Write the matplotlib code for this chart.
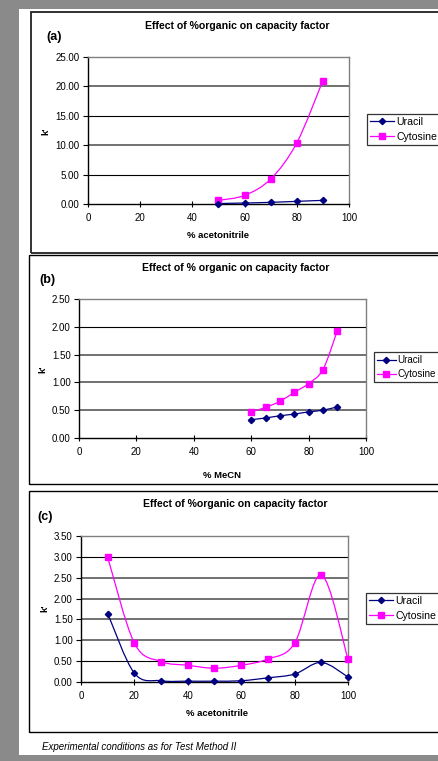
import matplotlib
matplotlib.use("Agg")
import matplotlib.pyplot as plt
from matplotlib.path import Path
from matplotlib.patches import PathPatch, Rectangle
from matplotlib.lines import Line2D

plt.rcParams['font.family'] = ['Liberation Sans', 'DejaVu Sans']

# ---------------- data ----------------
a_x = [50, 60, 70, 80, 90]
a_uracil = [0.08, 0.17, 0.28, 0.45, 0.62]
a_cytosine = [0.62, 1.47, 4.25, 10.4, 21.0]

b_x = [60, 65, 70, 75, 80, 85, 90]
b_uracil = [0.33, 0.36, 0.40, 0.43, 0.47, 0.50, 0.56]
b_cytosine = [0.47, 0.55, 0.66, 0.82, 0.98, 1.23, 1.93]

c_x = [10, 20, 30, 40, 50, 60, 70, 80, 90, 100]
c_uracil = [1.64, 0.21, 0.03, 0.02, 0.02, 0.03, 0.10, 0.19, 0.47, 0.12]
c_cytosine = [2.99, 0.93, 0.49, 0.40, 0.33, 0.40, 0.55, 0.93, 2.57, 0.55]

title = "Effect of %organic on capacity factor"
title_b = "Effect of % organic on capacity factor"
series_names = ["Uracil", "Cytosine"]
x_ticks = [0, 20, 40, 60, 80, 100]
a_yticks = [0, 5, 10, 15, 20, 25]
b_yticks = [0, 0.5, 1.0, 1.5, 2.0, 2.5]
c_yticks = [0, 0.5, 1.0, 1.5, 2.0, 2.5, 3.0, 3.5]

# ---------------- layout ----------------
W, H = 439, 761
fig = plt.figure(figsize=(W / 100, H / 100), dpi=100)
fig.patch.set_facecolor('#8a8a8a')


def fx(x):
    return x / W


def fy(y):
    return 1 - y / H


def prect(x0, y0, x1, y1, **kw):
    r = Rectangle((fx(x0), fy(y1)), (x1 - x0) / W, (y1 - y0) / H,
                  transform=fig.transFigure, **kw)
    fig.patches.append(r)


# white page
prect(19, 9, 445, 755, facecolor='white', edgecolor='none', zorder=-5)
# chart frames
prect(31, 12, 445, 253, facecolor='none', edgecolor='#222222', lw=1.3, zorder=-4)
prect(29, 255, 445, 484, facecolor='none', edgecolor='black', lw=1.0, zorder=-4)
prect(29, 491, 445, 732, facecolor='none', edgecolor='black', lw=1.0, zorder=-4)

U_COL = '#000080'
C_COL = '#FF00FF'


def smooth_path(xs, ys):
    pts = list(zip(xs, ys))
    n = len(pts)
    verts = [pts[0]]
    codes = [Path.MOVETO]
    for i in range(n - 1):
        p0 = pts[i - 1] if i > 0 else pts[i]
        p1 = pts[i]
        p2 = pts[i + 1]
        p3 = pts[i + 2] if i + 2 < n else pts[i + 1]
        c1 = (p1[0] + (p2[0] - p0[0]) / 6, p1[1] + (p2[1] - p0[1]) / 6)
        c2 = (p2[0] - (p3[0] - p1[0]) / 6, p2[1] - (p3[1] - p1[1]) / 6)
        verts += [c1, c2, p2]
        codes += [Path.CURVE4] * 3
    return Path(verts, codes)


def make_panel(box, xs, u, c, yticks, grid_cols, ttl, ttl_xy, lab, lab_xy,
               xlabel, xlab_xy, ylab_xy, leg_xy, leg_fs=7.6, leg_hl=2.3,
               fmt="{:.2f}"):
    x0, y0, x1, y1 = box
    ax = fig.add_axes([fx(x0), fy(y1), (x1 - x0) / W, (y1 - y0) / H])
    ax.set_zorder(5)
    ax.patch.set_facecolor('white')
    ax.set_xlim(0, 100)
    ax.set_ylim(yticks[0], yticks[-1])
    ax.set_xticks(x_ticks)
    ax.set_yticks(yticks)
    ax.set_yticklabels([fmt.format(v) for v in yticks])
    ax.tick_params(axis='both', labelsize=7, length=3.5, width=0.8, pad=2.5,
                   colors='black')
    ax.tick_params(axis='x', direction='inout', length=5, pad=4)
    for s in ['top', 'right']:
        ax.spines[s].set_color('#808080')
        ax.spines[s].set_linewidth(1.0)
    for s in ['left', 'bottom']:
        ax.spines[s].set_color('black')
        ax.spines[s].set_linewidth(1.0)
    for yv, col in zip(yticks[1:-1], grid_cols):
        if col == 'k':
            ax.axhline(yv, color='black', lw=0.8, zorder=1)
        else:
            ax.axhline(yv, color='#666666', lw=1.3, zorder=1)
    ax.add_patch(PathPatch(smooth_path(xs, c), facecolor='none',
                           edgecolor=C_COL, lw=0.9, zorder=3))
    ax.add_patch(PathPatch(smooth_path(xs, u), facecolor='none',
                           edgecolor=U_COL, lw=0.9, zorder=3))
    ax.plot(xs, c, linestyle='none', marker='s', ms=3.7, color=C_COL,
            zorder=4, clip_on=False)
    ax.plot(xs, u, linestyle='none', marker='D', ms=3.2, color=U_COL,
            zorder=5, clip_on=False)
    handles = [Line2D([], [], color=U_COL, marker='D', ms=3.2, lw=0.9),
               Line2D([], [], color=C_COL, marker='s', ms=3.7, lw=0.9)]
    leg = ax.legend(handles, series_names, loc='upper left',
                    bbox_to_anchor=(fx(leg_xy[0]), fy(leg_xy[1])),
                    bbox_transform=fig.transFigure, fontsize=leg_fs,
                    frameon=True, fancybox=False, handlelength=leg_hl,
                    handletextpad=0.15, borderpad=0.3, labelspacing=0.45,
                    borderaxespad=0)
    leg.get_frame().set_edgecolor('black')
    leg.get_frame().set_linewidth(0.9)
    fig.text(fx(ttl_xy[0]), fy(ttl_xy[1]), ttl, ha='center', va='center',
             fontsize=7.6, fontweight='bold')
    fig.text(fx(lab_xy[0]), fy(lab_xy[1]), lab, ha='left', va='center',
             fontsize=9, fontweight='bold')
    fig.text(fx(xlab_xy[0]), fy(xlab_xy[1]), xlabel, ha='center',
             va='center', fontsize=6.8, fontweight='bold')
    fig.text(fx(ylab_xy[0]), fy(ylab_xy[1]), "k'", ha='center', va='center',
             fontsize=6.8, fontweight='bold', rotation=90)
    return ax


make_panel((88, 57, 349, 204), a_x, a_uracil, a_cytosine, a_yticks,
           ['k', 'g', 'k', 'g'], title, (237, 26), "(a)", (46, 37),
           "% acetonitrile", (218, 235), (46, 131), (367, 114))

make_panel((79, 299, 366, 438), b_x, b_uracil, b_cytosine, b_yticks,
           ['g', 'g', 'g', 'k'], title_b, (236, 268), "(b)", (39, 280),
           "% MeCN", (222, 475), (43, 369), (374, 352), leg_fs=7.1,
           leg_hl=1.9)

make_panel((81, 536, 348, 682), c_x, c_uracil, c_cytosine, c_yticks,
           ['k', 'g', 'g', 'g', 'g', 'k'], title, (235, 504), "(c)", (37, 517),
           "% acetonitrile", (217, 713), (45, 608), (366, 593))

fig.text(fx(42), fy(747), "Experimental conditions as for Test Method II",
         ha='left', va='center', fontsize=7, style='italic')

fig.savefig("out.png", dpi=100, facecolor=fig.get_facecolor())
